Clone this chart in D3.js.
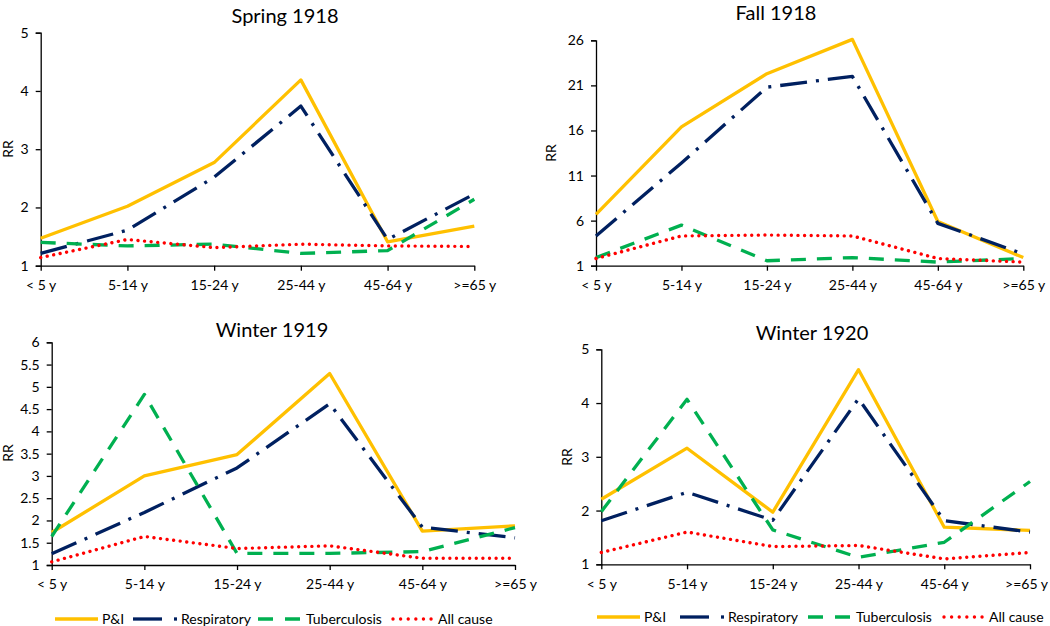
<!DOCTYPE html>
<html>
<head>
<meta charset="utf-8">
<script src="https://cdn.jsdelivr.net/npm/d3@7"></script>
<style>
  body { margin: 0; background: #fff; }
  svg { display: block; }
  text { font-family: Lato, "Open Sans", sans-serif; fill: #000; }
</style>
</head>
<body>
<svg id="chart" width="1050" height="626"></svg>
<script>
// ---------- data ----------
const ageGroups = ["< 5 y", "5-14 y", "15-24 y", "25-44 y", "45-64 y", ">=65 y"];
const seriesNames = ["P&I", "Respiratory", "Tuberculosis", "All cause"];
const panelTitles = ["Spring 1918", "Fall 1918", "Winter 1919", "Winter 1920"];

const spring1918PI   = [1.47, 2.02, 2.77, 4.19, 1.41, 1.68];
const spring1918Resp = [1.21, 1.61, 2.52, 3.74, 1.45, 2.23];
const spring1918TB   = [1.40, 1.34, 1.37, 1.21, 1.26, 2.14];
const spring1918All  = [1.14, 1.45, 1.31, 1.37, 1.34, 1.33];

const fall1918PI   = [6.7, 16.4, 22.3, 26.1, 5.9, 1.9];
const fall1918Resp = [4.3, 12.4, 20.8, 22.0, 5.7, 2.3];
const fall1918TB   = [1.9, 5.5, 1.55, 1.9, 1.4, 1.8];
const fall1918All  = [1.8, 4.3, 4.4, 4.3, 1.8, 1.4];

const winter1919PI   = [1.73, 3.00, 3.48, 5.30, 1.76, 1.88];
const winter1919Resp = [1.25, 2.18, 3.18, 4.62, 1.85, 1.61];
const winter1919TB   = [1.64, 4.83, 1.26, 1.26, 1.30, 1.84];
const winter1919All  = [1.07, 1.64, 1.37, 1.43, 1.15, 1.15];

const winter1920PI   = [2.21, 3.16, 1.97, 4.62, 1.69, 1.63];
const winter1920Resp = [1.81, 2.34, 1.82, 4.08, 1.81, 1.60];
const winter1920TB   = [1.98, 4.07, 1.64, 1.13, 1.41, 2.54];
const winter1920All  = [1.22, 1.60, 1.33, 1.35, 1.10, 1.22];

const springTicks = [1, 2, 3, 4, 5];
const fallTicks = [1, 6, 11, 16, 21, 26];
const winter1919Ticks = [1, 1.5, 2, 2.5, 3, 3.5, 4, 4.5, 5, 5.5, 6];
const winter1920Ticks = [1, 2, 3, 4, 5];

// ---------- styles ----------
const seriesStyle = [
  { color: "#FFC000", width: 3.3, dash: null, cap: "butt" },
  { color: "#002060", width: 3.3, dash: "27,9,3,9", cap: "butt" },
  { color: "#00B050", width: 3.3, dash: "15,11", cap: "butt" },
  { color: "#FF0000", width: 3.4, dash: "0.01,6.6", cap: "round" }
];
const labelSize = "14px";

const panels = [
  { title: panelTitles[0], series: [spring1918PI, spring1918Resp, spring1918TB, spring1918All], ticks: springTicks,
    x0: 40.7, x1: 474.3, yBottom: 265.7, yTop: 32.7, titleX: 285, titleY: 23, rrX: 8, rrY: 149, xLabY: 290, legendY: null, lastShift: 0 },
  { title: panelTitles[1], series: [fall1918PI, fall1918Resp, fall1918TB, fall1918All], ticks: fallTicks,
    x0: 596, x1: 1023.3, yBottom: 265.7, yTop: 40.3, titleX: 776, titleY: 20, rrX: 551, rrY: 153, xLabY: 290, legendY: null, lastShift: 0 },
  { title: panelTitles[2], series: [winter1919PI, winter1919Resp, winter1919TB, winter1919All], ticks: winter1919Ticks,
    x0: 51.7, x1: 515, yBottom: 565, yTop: 342.3, titleX: 272, titleY: 337, rrX: 8, rrY: 453, xLabY: 589,
    legendY: 619, legendX: [55, 133, 258, 392], lastShift: 0 },
  { title: panelTitles[3], series: [winter1920PI, winter1920Resp, winter1920TB, winter1920All], ticks: winter1920Ticks,
    x0: 601.3, x1: 1030, yBottom: 564.3, yTop: 349.3, titleX: 812, titleY: 340, rrX: 567, rrY: 457, xLabY: 589,
    legendY: 617, legendX: [597, 680, 808, 943], lastShift: -4 }
];

const svg = d3.select("#chart");

panels.forEach(p => {
  const g = svg.append("g");
  const x = d3.scalePoint().domain(ageGroups).range([p.x0, p.x1]);
  const ymax = p.ticks[p.ticks.length - 1];
  const y = d3.scaleLinear().domain([1, ymax]).range([p.yBottom, p.yTop]);

  // y axis
  const yAxis = g.append("g").attr("transform", `translate(${p.x0},0)`)
    .call(d3.axisLeft(y).tickValues(p.ticks).tickSize(5).tickPadding(7).tickFormat(d => String(d)));
  yAxis.select(".domain").attr("stroke", "#000").attr("stroke-width", 1.3);
  yAxis.selectAll(".tick line").attr("stroke", "#000").attr("stroke-width", 1.3);
  yAxis.selectAll(".tick text").style("font-size", labelSize).style("font-family", "Lato, 'Open Sans', sans-serif");

  // x axis
  const xAxis = g.append("g").attr("transform", `translate(0,${p.yBottom})`)
    .call(d3.axisBottom(x).tickSize(5).tickSizeOuter(0).tickPadding(9));
  xAxis.select(".domain").attr("stroke", "#000").attr("stroke-width", 1.3);
  xAxis.selectAll(".tick line").attr("stroke", "#000").attr("stroke-width", 1.3);
  xAxis.selectAll(".tick text").style("font-size", labelSize).style("font-family", "Lato, 'Open Sans', sans-serif")
    .attr("y", null).attr("dy", null)
    .attr("transform", (d, i) => `translate(${i === ageGroups.length - 1 ? p.lastShift : 0},${p.xLabY - p.yBottom})`);

  // title
  g.append("text").attr("x", p.titleX).attr("y", p.titleY).attr("text-anchor", "middle")
    .style("font-size", "20px").text(p.title);

  // RR label
  g.append("text").attr("transform", `translate(${p.rrX},${p.rrY}) rotate(-90)`).attr("text-anchor", "middle")
    .attr("dy", "0.35em").style("font-size", labelSize).text("RR");

  // lines
  const line = d3.line().x((d, i) => x(ageGroups[i])).y(d => y(d));
  p.series.forEach((vals, si) => {
    const st = seriesStyle[si];
    g.append("path").datum(vals).attr("d", line)
      .attr("fill", "none").attr("stroke", st.color).attr("stroke-width", st.width)
      .attr("stroke-linejoin", "round").attr("stroke-linecap", st.cap)
      .attr("stroke-dasharray", st.dash);
  });

  // legend
  if (p.legendY) {
    const lg = g.append("g");
    seriesNames.forEach((name, si) => {
      const st = seriesStyle[si];
      const lx = p.legendX[si];
      const ly = p.legendY;
      if (si === 0) {
        lg.append("line").attr("x1", lx).attr("x2", lx + 43).attr("y1", ly).attr("y2", ly)
          .attr("stroke", st.color).attr("stroke-width", st.width);
        lg.append("text").attr("x", lx + 47).attr("y", ly).attr("dy", "0.35em").style("font-size", labelSize).text(name);
      } else if (si === 1) {
        lg.append("line").attr("x1", lx).attr("x2", lx + 29).attr("y1", ly).attr("y2", ly)
          .attr("stroke", st.color).attr("stroke-width", st.width);
        lg.append("line").attr("x1", lx + 41).attr("x2", lx + 44).attr("y1", ly).attr("y2", ly)
          .attr("stroke", st.color).attr("stroke-width", st.width);
        lg.append("text").attr("x", lx + 48).attr("y", ly).attr("dy", "0.35em").style("font-size", labelSize).text(name);
      } else if (si === 2) {
        lg.append("line").attr("x1", lx).attr("x2", lx + 42).attr("y1", ly).attr("y2", ly)
          .attr("stroke", st.color).attr("stroke-width", st.width).attr("stroke-dasharray", "15,12");
        lg.append("text").attr("x", lx + 48).attr("y", ly).attr("dy", "0.35em").style("font-size", labelSize).text(name);
      } else {
        lg.append("line").attr("x1", lx + 1).attr("x2", lx + 40).attr("y1", ly).attr("y2", ly)
          .attr("stroke", st.color).attr("stroke-width", st.width).attr("stroke-linecap", "round")
          .attr("stroke-dasharray", "0.01,7.6");
        lg.append("text").attr("x", lx + 46).attr("y", ly).attr("dy", "0.35em").style("font-size", labelSize).text(name);
      }
    });
  }
});
</script>
</body>
</html>
